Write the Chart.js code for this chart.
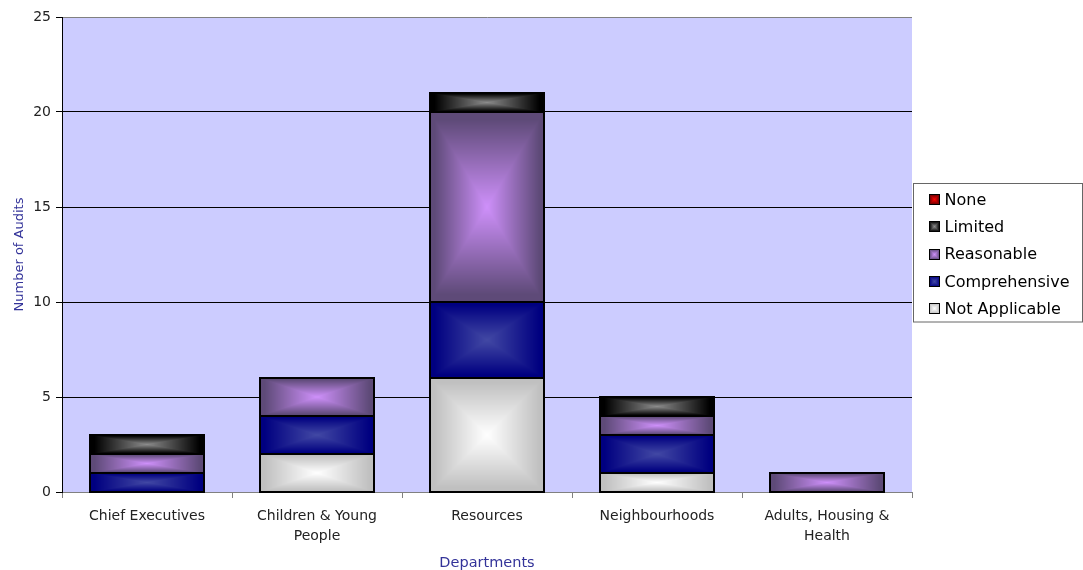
<!DOCTYPE html>
<html>
<head>
<meta charset="utf-8">
<script src="https://cdn.jsdelivr.net/npm/chart.js@4/dist/chart.umd.min.js"></script>
<style>
  html, body { margin: 0; padding: 0; background: #ffffff; }
  #wrap { width: 1083px; height: 570px; position: relative; }
</style>
</head>
<body>
<div id="wrap"><canvas id="chart"></canvas></div>
<script>
// Audit counts by department and assurance level
const departments = [
  ['Chief Executives'],
  ['Children & Young', 'People'],
  ['Resources'],
  ['Neighbourhoods'],
  ['Adults, Housing &', 'Health']
];
const notApplicable = [0, 2, 6, 1, 0];
const comprehensive = [1, 2, 4, 2, 0];
const reasonable    = [1, 2, 10, 1, 1];
const limited       = [1, 0, 1, 1, 0];
const none          = [0, 0, 0, 0, 0];
const yTicks = [0, 5, 10, 15, 20, 25];

// Edge and centre colours of each series' box gradient
const shades = {
  'Not Applicable': { edge: [192, 192, 192], center: [255, 255, 255] },
  'Comprehensive':  { edge: [0, 0, 128],     center: [66, 72, 164] },
  'Reasonable':     { edge: [94, 74, 120],   center: [206, 144, 250] },
  'Limited':        { edge: [0, 0, 0],       center: [140, 140, 140] },
  'None':           { edge: [96, 0, 0],      center: [255, 0, 0] }
};

const FONT = "'DejaVu Sans', 'Liberation Sans', sans-serif";
Chart.defaults.font.family = FONT;
Chart.defaults.color = '#000000';

// Fill a rectangle with a gradient that brightens from the edges toward the centre
function paintBox(ctx, x0, y0, w, h, shade) {
  const W = Math.max(1, Math.round(w)), H = Math.max(1, Math.round(h));
  const off = document.createElement('canvas');
  off.width = W; off.height = H;
  const octx = off.getContext('2d');
  const img = octx.createImageData(W, H);
  const hw = W / 2, hh = H / 2;
  for (let py = 0; py < H; py++) {
    for (let px = 0; px < W; px++) {
      const dx = Math.abs(px + 0.5 - hw) / hw;
      const dy = Math.abs(py + 0.5 - hh) / hh;
      const t = Math.min(1, Math.max(dx, dy) / 0.92);
      const i = (py * W + px) * 4;
      for (let c = 0; c < 3; c++) {
        img.data[i + c] = Math.round(shade.center[c] + (shade.edge[c] - shade.center[c]) * t);
      }
      img.data[i + 3] = 255;
    }
  }
  octx.putImageData(img, 0, 0);
  ctx.drawImage(off, Math.round(x0), Math.round(y0));
}

// Plot background
const plotBackground = {
  id: 'plotBackground',
  beforeDraw(chart) {
    const { ctx, chartArea: a } = chart;
    ctx.save();
    ctx.fillStyle = '#ccccff';
    ctx.fillRect(a.left, a.top, a.right - a.left, a.bottom - a.top);
    ctx.restore();
  }
};

// Shaded bar segments with dark outlines
const shadedBars = {
  id: 'shadedBars',
  afterDatasetsDraw(chart) {
    const ctx = chart.ctx;
    ctx.save();
    chart.data.datasets.forEach((ds, di) => {
      const meta = chart.getDatasetMeta(di);
      if (meta.hidden) return;
      meta.data.forEach(el => {
        const top = Math.min(el.y, el.base), bottom = Math.max(el.y, el.base);
        const h = bottom - top;
        if (h < 0.5) return;
        const left = el.x - el.width / 2;
        paintBox(ctx, left, top, el.width, h, shades[ds.label]);
      });
    });
    ctx.strokeStyle = '#000000';
    ctx.lineWidth = 2;
    chart.data.datasets.forEach((ds, di) => {
      const meta = chart.getDatasetMeta(di);
      meta.data.forEach(el => {
        const top = Math.min(el.y, el.base), bottom = Math.max(el.y, el.base);
        if (bottom - top < 0.5) return;
        const left = Math.round(el.x - el.width / 2);
        ctx.strokeRect(left, Math.round(top), Math.round(el.width), Math.round(bottom - top));
      });
    });
    ctx.restore();
  }
};

// Boxed legend to the right of the plot, top series first
const boxedLegend = {
  id: 'boxedLegend',
  afterDraw(chart) {
    const ctx = chart.ctx;
    const a = chart.chartArea;
    const boxLeft = a.right + 1.5, boxWidth = 169, rowH = 27.3;
    const items = chart.data.datasets.map(d => d.label).reverse();
    const boxH = rowH * items.length + 2;
    const boxTop = Math.round((a.top + a.bottom) / 2 - boxH / 2) - 1.5;
    ctx.save();
    ctx.fillStyle = '#ffffff';
    ctx.fillRect(boxLeft, boxTop, boxWidth, boxH);
    ctx.strokeStyle = '#666666';
    ctx.lineWidth = 1;
    ctx.strokeRect(boxLeft, boxTop, boxWidth, boxH);
    ctx.font = '16px ' + FONT;
    ctx.textBaseline = 'middle';
    items.forEach((label, i) => {
      const cy = boxTop + 2.5 + rowH * i + rowH / 2;
      const sx = boxLeft + 15;
      paintBox(ctx, sx, cy - 5.5, 11, 11, shades[label]);
      ctx.strokeStyle = '#000000';
      ctx.lineWidth = 1;
      ctx.strokeRect(Math.round(sx) + 0.5, Math.round(cy - 5.5) + 0.5, 10, 10);
      ctx.fillStyle = '#000000';
      ctx.fillText(label, boxLeft + 31, cy + 1);
    });
    ctx.restore();
  }
};

const series = [
  ['Not Applicable', notApplicable],
  ['Comprehensive', comprehensive],
  ['Reasonable', reasonable],
  ['Limited', limited],
  ['None', none]
];

new Chart(document.getElementById('chart'), {
  type: 'bar',
  data: {
    labels: departments,
    datasets: series.map(([label, data]) => ({
      label,
      data,
      backgroundColor: 'rgba(0,0,0,0)',
      borderWidth: 0,
      barPercentage: 0.67,
      categoryPercentage: 1.0
    }))
  },
  options: {
    responsive: true,
    maintainAspectRatio: false,
    animation: false,
    layout: { padding: { top: 17, right: 171, left: 0, bottom: 0 } },
    plugins: {
      legend: { display: false },
      tooltip: { enabled: false }
    },
    scales: {
      x: {
        stacked: true,
        afterFit(s) { s.height = 78; },
        grid: {
          offset: true,
          drawOnChartArea: false,
          tickLength: 6,
          tickColor: '#808080'
        },
        border: { color: '#808080', width: 1 },
        ticks: {
          maxRotation: 0,
          autoSkip: false,
          padding: 8,
          color: '#222222',
          font: { size: 14, lineHeight: 1.45 }
        },
        title: {
          display: true,
          text: 'Departments',
          color: '#333399',
          font: { size: 14.5, lineHeight: 1.0 },
          padding: { top: 0, bottom: 0 }
        }
      },
      y: {
        stacked: true,
        min: 0,
        max: 25,
        afterFit(s) { s.width = 62; },
        afterBuildTicks(s) { s.ticks = yTicks.map(v => ({ value: v })); },
        grid: {
          color: c => (c.tick && (c.tick.value === 25 || c.tick.value === 0)) ? '#808080' : '#000000',
          tickColor: '#000000',
          tickLength: 6
        },
        border: { color: '#000000', width: 1 },
        ticks: {
          padding: 5,
          color: '#222222',
          font: { size: 14 }
        },
        title: {
          display: true,
          text: 'Number of Audits',
          color: '#333399',
          font: { size: 13 },
          padding: { top: 12, bottom: 0 }
        }
      }
    }
  },
  plugins: [plotBackground, shadedBars, boxedLegend]
});
</script>
</body>
</html>
